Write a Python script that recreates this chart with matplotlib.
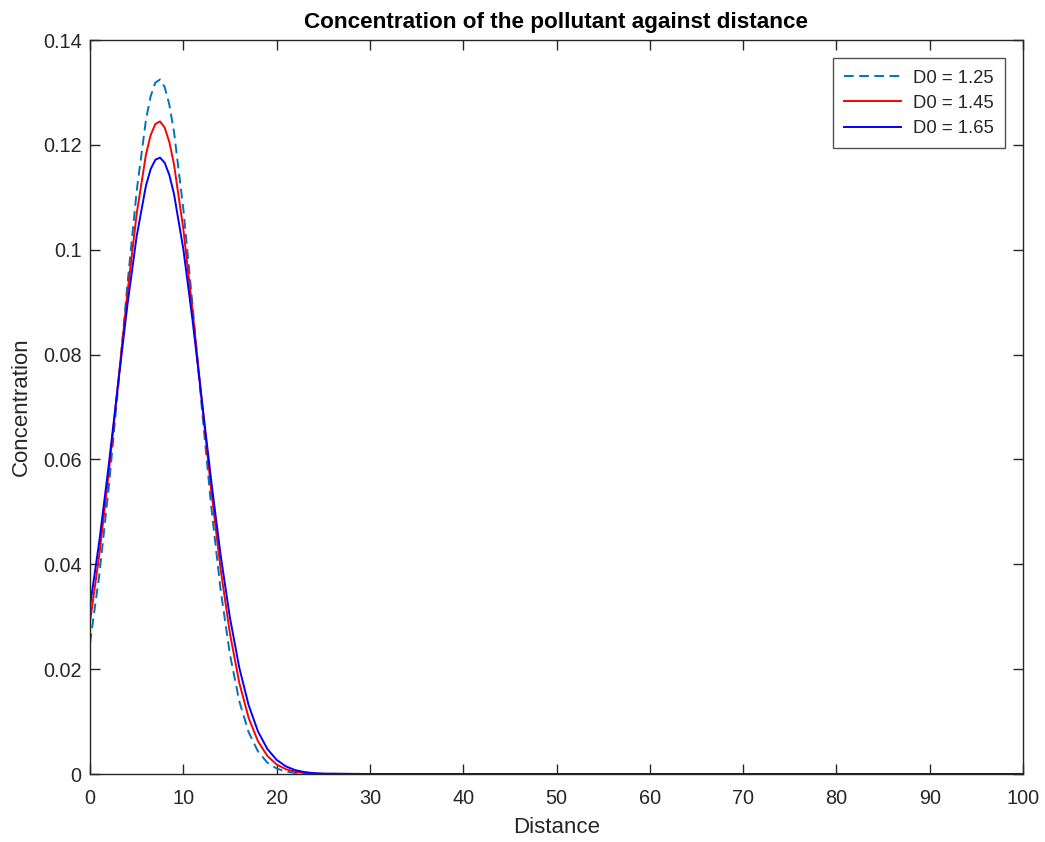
import matplotlib
matplotlib.use("Agg")
import matplotlib.pyplot as plt

plt.rcParams['font.family'] = ['Liberation Sans', 'DejaVu Sans']

distance = [0, 1, 2, 3, 4, 5, 6, 6.5, 7, 7.5, 8, 8.5, 9, 10, 11, 12, 13, 14, 15,
            16, 17, 18, 19, 20, 21, 22, 23, 24, 25, 30, 100]
conc_125 = [0.02495, 0.03801, 0.05447, 0.07343, 0.09315, 0.11117, 0.12482, 0.12927,
            0.13186, 0.13246, 0.13105, 0.12770, 0.12255, 0.10782, 0.08925, 0.06951,
            0.05093, 0.03511, 0.02278, 0.01390, 0.00798, 0.00431, 0.00219, 0.00105,
            0.00047, 0.00020, 0.00008, 0.00003, 0.00001, 0.0, 0.0]
conc_145 = [0.02900, 0.04186, 0.05731, 0.07438, 0.09153, 0.10681, 0.11818, 0.12185,
            0.12397, 0.12447, 0.12331, 0.12056, 0.11630, 0.10401, 0.08818, 0.07089,
            0.05405, 0.03907, 0.02677, 0.01739, 0.01072, 0.00626, 0.00347, 0.00182,
            0.00091, 0.00043, 0.00019, 0.00008, 0.00003, 0.0, 0.0]
conc_165 = [0.03200, 0.04442, 0.05880, 0.07423, 0.08934, 0.10255, 0.11225, 0.11536,
            0.11715, 0.11757, 0.11660, 0.11427, 0.11066, 0.10015, 0.08642, 0.07111,
            0.05580, 0.04176, 0.02980, 0.02027, 0.01315, 0.00814, 0.00480, 0.00270,
            0.00145, 0.00074, 0.00036, 0.00017, 0.00007, 0.0, 0.0]
labels = ["D0 = 1.25", "D0 = 1.45", "D0 = 1.65"]
xticks = list(range(0, 101, 10))
yticks = [0, 0.02, 0.04, 0.06, 0.08, 0.1, 0.12, 0.14]
ytick_labels = ["0", "0.02", "0.04", "0.06", "0.08", "0.1", "0.12", "0.14"]

fig = plt.figure(figsize=(10.45, 8.42), dpi=100)
ax = fig.add_axes([90/1045, 1-774/842, (1023-90)/1045, (774-40)/842])

ax.plot(distance, conc_125, color='#0072BD', lw=1.4, ls=(0, (5, 2.8)), label=labels[0])
ax.plot(distance, conc_145, color='#FF0000', lw=1.4, label=labels[1])
ax.plot(distance, conc_165, color='#0000FF', lw=1.4, label=labels[2])

ax.set_xlim(0, 100)
ax.set_ylim(0, 0.14)
ax.set_xticks(xticks)
ax.set_xticklabels([str(t) for t in xticks])
ax.set_yticks(yticks)
ax.set_yticklabels(ytick_labels)

edge = '#262626'
for s in ax.spines.values():
    s.set_color(edge)
    s.set_linewidth(1.0)
ax.tick_params(direction='in', length=7, width=1.0, color=edge, top=True, right=True,
               labelsize=14.3, labelcolor='#262626')
ax.tick_params(axis='x', pad=11)
ax.tick_params(axis='y', pad=6)

ax.set_title("Concentration of the pollutant against distance", fontsize=16.2,
             fontweight='bold', color='black', pad=8.5)
ax.set_xlabel("Distance", fontsize=16, color='#262626', labelpad=6)
ax.set_ylabel("Concentration", fontsize=16, color='#262626', labelpad=8)

leg = ax.legend(loc='upper right', fontsize=13.3, frameon=True, fancybox=False,
                edgecolor='#262626', borderaxespad=1.0, handlelength=3.1,
                handletextpad=0.6, labelspacing=0.45, borderpad=0.6)
leg.get_frame().set_linewidth(1.0)
for t in leg.get_texts():
    t.set_color('#262626')

fig.savefig("out.png", dpi=100, facecolor='white')
